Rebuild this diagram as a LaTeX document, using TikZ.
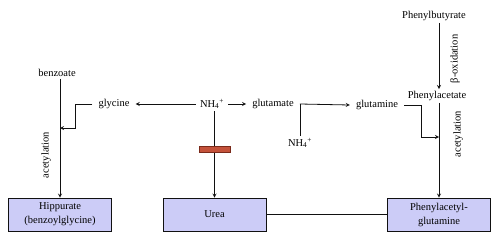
\documentclass[tikz,border=0pt]{standalone}
\usepackage{fontspec}
\setmainfont{Liberation Serif}
\usetikzlibrary{arrows, positioning, calc}
\definecolor{tinta}{HTML}{111111}
\definecolor{lavanda}{HTML}{CCCCF7}
\definecolor{ladrillo}{HTML}{C4523A}
\definecolor{ladrillo2}{HTML}{7A2A1A}
\tikzset{
  caja/.style={rectangle, minimum width=103pt, minimum height=33pt, text centered,
               draw=tinta, fill=lavanda, line width=0.8pt, align=center,
               font=\fontsize{10.5}{14}\selectfont},
  etiqueta/.style={inner xsep=6pt, inner ysep=2pt, font=\fontsize{10.5}{13}\selectfont},
  rotulo/.style={rotate=90, inner sep=1pt, font=\fontsize{10.5}{13}\selectfont},
  bloqueo/.style={rectangle, minimum width=31pt, minimum height=6pt, inner sep=0pt,
                  draw=ladrillo2, fill=ladrillo, line width=0.6pt},
  arrow/.style={line width=0.8pt,->,>=stealth,color=tinta},
  linea/.style={line width=0.8pt,color=tinta}
}
\begin{document}
\begin{tikzpicture}[x=1pt, y=-1pt]
  \useasboundingbox (0,0) rectangle (500,241);
  % cajas de productos
  \node (hip) [caja] at (60,214.5) {Hippurate\\(benzoylglycine)};
  \node (urea) [caja] at (214.5,214.5) {Urea};
  \node (pag) [caja] at (439,214.5) {Phenylacetyl-\\glutamine};
  % metabolitos
  \node (benz) [etiqueta] at (57,73) {benzoate};
  \node (gly) [etiqueta] at (114,104) {glycine};
  \node (nh) [etiqueta, inner xsep=4pt] at (212,104) {NH\textsubscript{4}\textsuperscript{+}};
  \node (glu) [etiqueta] at (273,104) {glutamate};
  \node (nhb) [etiqueta] at (300,143) {NH\textsubscript{4}\textsuperscript{+}};
  \node (gln) [etiqueta] at (377,105) {glutamine};
  \node (pbut) [etiqueta] at (434,16) {Phenylbutyrate};
  \node (pac) [etiqueta] at (437,96) {Phenylacetate};
  \coordinate (jb) at (60,128);
  \coordinate (jp) at (439,137);
  % flechas
  \draw [arrow] (benz.south -| hip.north) -- (hip.north);
  \draw [arrow] (gly.west) -- ++(-17,0) |- (jb);
  \draw [arrow] (nh.west) -- (gly.east);
  \draw [arrow] (nh.east) -- (glu.west);
  \draw [arrow] (nh.south -| urea.north) -- (urea.north);
  \draw [linea] (nhb.north -| glu.east) -- (glu.east);
  \draw [arrow] (glu.east) -- (gln.west);
  \draw [arrow] (pbut.south -| pag.north) -- (pac.north -| pag.north);
  \draw [arrow] (pac.south -| pag.north) -- (pag.north);
  \draw [arrow] (gln.east) -- ++(17,0) |- (jp);
  \draw [linea] (urea.east) -- (pag.west);
  \node (bar) [bloqueo] at (215,149) {};
  % rotulos
  \node [rotulo] at (46,155) {acetylation};
  \node [rotulo] at (458,134) {acetylation};
  \node [rotulo] at (455,59) {β-oxidation};
\end{tikzpicture}
\end{document}
